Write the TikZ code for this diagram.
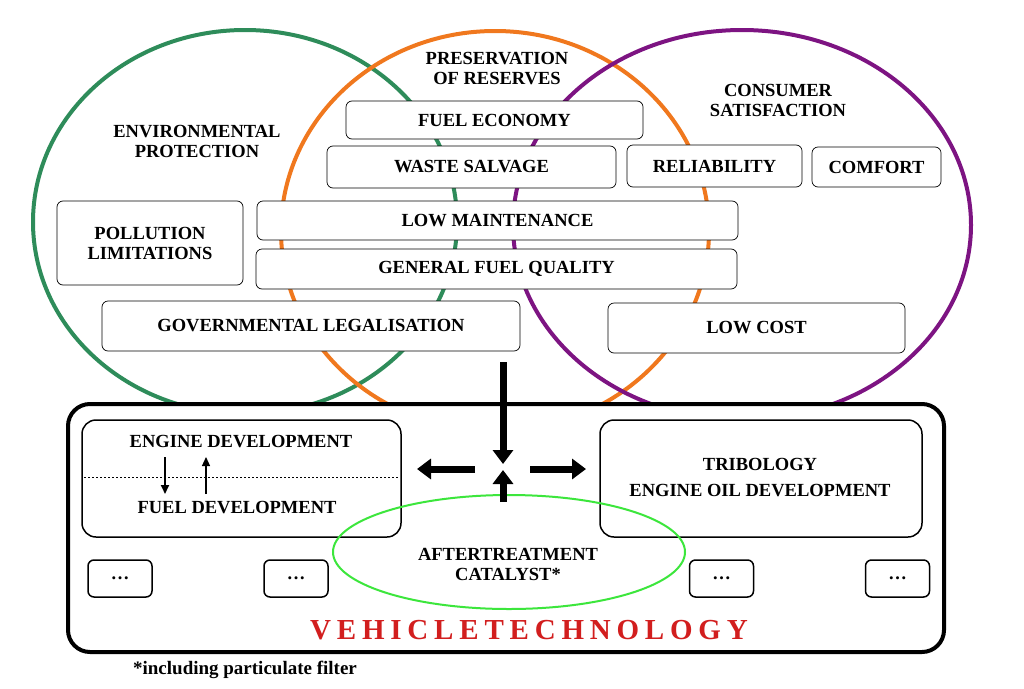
\documentclass[tikz,border=0pt]{standalone}
\usepackage{fontspec}
\setmainfont{Liberation Serif}
\usetikzlibrary{arrows.meta}
\definecolor{cgreen}{RGB}{46,140,90}
\definecolor{corange}{RGB}{240,120,30}
\definecolor{cpurple}{RGB}{125,20,130}
\definecolor{clgreen}{RGB}{60,230,60}
\definecolor{cred}{RGB}{210,30,30}
\begin{document}
\begin{tikzpicture}[x=1pt,y=-1pt,
  lbl/.style={font=\fontsize{18.5}{20}\selectfont\bfseries,align=center},
  tbox/.style={lbl,draw,fill=white,rounded corners=6pt,line width=0.7pt},
  bigarr/.style={line width=7pt,-{Triangle[length=14pt,width=20pt]}},
  thinarr/.style={line width=1.8pt,-{Triangle[length=9pt,width=8pt]}}]
\useasboundingbox (0,0) rectangle (1024,688);
\draw[cgreen,line width=4pt] (245,222) ellipse [x radius=212,y radius=192];
\draw[corange,line width=4pt] (495,231) ellipse [x radius=214,y radius=200];
\draw[cpurple,line width=4pt] (742,225) ellipse [x radius=229,y radius=195];
\node[lbl] (env) at (197,141) {ENVIRONMENTAL\\PROTECTION};
\node[lbl] (pres) at (497,69) {PRESERVATION\\OF RESERVES};
\node[lbl] (cons) at (778,100) {CONSUMER\\SATISFACTION};
\node[tbox,minimum width=297pt,minimum height=38pt] (fe) at (494.5,120) {FUEL ECONOMY};
\node[tbox,minimum width=289pt,minimum height=42pt] (ws) at (471.5,167) {WASTE SALVAGE};
\node[tbox,minimum width=175pt,minimum height=42pt] (rel) at (714.5,166) {RELIABILITY};
\node[tbox,minimum width=129pt,minimum height=40pt] (com) at (876.5,167) {COMFORT};
\node[tbox,minimum width=186pt,minimum height=84pt] (pol) at (150,243) {POLLUTION\\LIMITATIONS};
\node[tbox,minimum width=481pt,minimum height=39pt] (lm) at (497.5,220.5) {LOW MAINTENANCE};
\node[tbox,minimum width=481pt,minimum height=40pt] (gfq) at (496.5,269) {GENERAL FUEL QUALITY};
\node[tbox,minimum width=418pt,minimum height=50pt] (gov) at (311,326) {GOVERNMENTAL LEGALISATION};
\node[tbox,minimum width=297pt,minimum height=50pt] (lc) at (756.5,328) {LOW COST};
\draw[line width=4pt,fill=white,rounded corners=22pt] (68,404) rectangle (944,652);
\draw[line width=1.5pt,rounded corners=14pt] (82,420) rectangle (401,537);
\draw[dash pattern=on 2pt off 2pt] (84,477) -- (399,477);
\node[lbl] (ed) at (241,442) {ENGINE DEVELOPMENT};
\node[lbl] (fd) at (237,508) {FUEL DEVELOPMENT};
\coordinate (a1) at (165,457); \coordinate (a2) at (165,494);
\coordinate (b1) at (206,494); \coordinate (b2) at (206,457);
\draw[thinarr] (a1) -- (a2);
\draw[thinarr,line width=1.2pt] (b1) -- (b2);
\draw[line width=1.5pt,rounded corners=14pt] (600,420) rectangle (922,537);
\node[lbl] (tri) at (760,478) {TRIBOLOGY\\[6pt]ENGINE OIL DEVELOPMENT};
\draw[clgreen,line width=2pt] (509,552) ellipse [x radius=176,y radius=57];
\node[lbl] (at) at (508,564) {AFTERTREATMENT\\CATALYST*};
\foreach \n/\x in {d1/120,d2/296,d3/721.5,d4/897.5}
  \node[tbox,line width=1.5pt,minimum width=64pt,minimum height=37pt] (\n) at (\x,578.5) {\dots};
\coordinate (c0) at (503,362); \coordinate (c1) at (503,464);
\coordinate (l0) at (475,469); \coordinate (l1) at (417,469);
\coordinate (r0) at (530,469); \coordinate (r1) at (586,469);
\coordinate (u0) at (503,502); \coordinate (u1) at (503,470);
\draw[bigarr] (c0) -- (c1);
\draw[bigarr] (l0) -- (l1);
\draw[bigarr] (r0) -- (r1);
\draw[bigarr] (u0) -- (u1);
\node[font=\fontsize{29}{32}\selectfont\bfseries,text=cred] (vt) at (529,630) {\addfontfeature{LetterSpace=20}VEHICLETECHNOLOGY};
\node[font=\fontsize{19}{21}\selectfont\bfseries] (fn) at (245,670) {*including particulate filter};
\end{tikzpicture}
\end{document}
